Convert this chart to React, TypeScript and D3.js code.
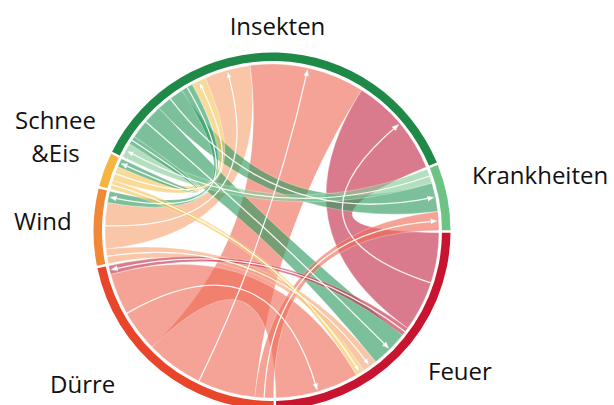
import React from "react";
import * as d3 from "d3";

const groupNames = ["Insekten", "Krankheiten", "Feuer", "Dürre", "Wind", "Schnee &Eis"];
const ringColors = ["#1f8a47", "#6cc383", "#c8142f", "#e8452a", "#f08838", "#f5b540"];
const linkColors = ["#2a9a5e", "#86cc98", "#c12a45", "#ef6b55", "#f6a373", "#f6c457"];

// directed flows: source -> target, value
const flowSource = ["Krankheiten", "Insekten", "Insekten", "Insekten", "Insekten", "Schnee &Eis", "Wind", "Dürre", "Feuer", "Dürre", "Feuer", "Wind", "Schnee &Eis", "Dürre"];
const flowTarget = ["Insekten", "Schnee &Eis", "Feuer", "Krankheiten", "Wind", "Insekten", "Insekten", "Insekten", "Insekten", "Krankheiten", "Dürre", "Feuer", "Feuer", "Feuer"];
const flowValue = [5, 3, 13, 10, 4, 5, 16, 40, 35, 6.5, 3, 5, 3, 29];

// clockwise order of the ribbon ends inside each group (flow indices)
const slotOrder = [
  [0, 1, 2, 3, 4, 5, 6, 7, 8], // Insekten
  [0, 3, 9], // Krankheiten
  [8, 10, 2, 11, 12, 13], // Feuer
  [9, 7, 13, 10], // Dürre
  [11, 6, 4], // Wind
  [12, 5, 1], // Schnee &Eis
];

const W = 614;
const H = 405;
const cx = 272;
const cy = 231;
const ringOuter = 178.5;
const ringInner = 170;
const ribbonR = 167;
const padDeg = 0.8;
const startDeg = -64;

type End = { startAngle: number; endAngle: number };

function layout() {
  const n = groupNames.length;
  const pad = (padDeg * Math.PI) / 180;
  const totals = slotOrder.map((s) => d3.sum(s, (i) => flowValue[i]));
  const angle = d3
    .scaleLinear()
    .domain([0, d3.sum(totals)])
    .range([0, 2 * Math.PI - n * pad]);

  const ends: { source: End | null; target: End | null }[] = flowValue.map(() => ({ source: null, target: null }));
  const groups: (End & { index: number })[] = [];
  let cursor = (startDeg * Math.PI) / 180 + pad / 2;

  slotOrder.forEach((slots, g) => {
    const g0 = cursor;
    slots.forEach((fi) => {
      const a0 = cursor;
      const a1 = cursor + angle(flowValue[fi]);
      cursor = a1;
      if (groupNames.indexOf(flowSource[fi]) === g) ends[fi].source = { startAngle: a0, endAngle: a1 };
      else ends[fi].target = { startAngle: a0, endAngle: a1 };
    });
    groups.push({ index: g, startAngle: g0, endAngle: cursor });
    cursor += pad;
  });
  return { ends, groups };
}

export default function App() {
  const { ends, groups } = layout();
  const arc = d3.arc<End>().innerRadius(ringInner).outerRadius(ringOuter);
  const ribbon = d3.ribbon<any, any>().radius(ribbonR);

  const order = d3.range(flowValue.length).sort((a, b) => flowValue[b] - flowValue[a]);

  const arrowPath = (fi: number) => {
    const s = ends[fi].source!;
    const t = ends[fi].target!;
    const sa = (s.startAngle + s.endAngle) / 2;
    const ta = (t.startAngle + t.endAngle) / 2;
    const r2 = ribbonR - 2;
    const p = d3.path();
    p.moveTo(ribbonR * Math.sin(sa), -ribbonR * Math.cos(sa));
    p.quadraticCurveTo(0, 0, r2 * Math.sin(ta), -r2 * Math.cos(ta));
    return p.toString();
  };

  return (
    <svg
      width={W}
      height={H}
      style={{ position: "absolute", left: 0, top: 0, background: "#fff" }}
      fontFamily="'Open Sans', sans-serif"
    >
      <defs>
        <marker
          id="arr"
          viewBox="0 0 10 10"
          refX="9"
          refY="5"
          markerWidth="7"
          markerHeight="7"
          markerUnits="userSpaceOnUse"
          orient="auto"
        >
          <path d="M0,1 L10,5 L0,9 z" fill="#fff" stroke="#c8c8c8" strokeWidth={0.8} />
        </marker>
      </defs>
      <g transform={`translate(${cx},${cy})`}>
        {order.map((fi) => (
          <path
            key={"r" + fi}
            d={ribbon({ source: ends[fi].source, target: ends[fi].target }) as unknown as string}
            fill={linkColors[groupNames.indexOf(flowSource[fi])]}
            fillOpacity={0.62}
            stroke="#fff"
            strokeOpacity={0.5}
            strokeWidth={0.6}
          />
        ))}
        {order.map((fi) => (
          <path
            key={"a" + fi}
            d={arrowPath(fi)}
            fill="none"
            stroke="#fff"
            strokeOpacity={0.9}
            strokeWidth={1.3}
            markerEnd="url(#arr)"
          />
        ))}
        {groups.map((g) => (
          <path key={"g" + g.index} d={arc(g) as string} fill={ringColors[g.index]} />
        ))}
      </g>
      <g fontSize={24} fill="#111">
        <text x={277.5} y={35} textAnchor="middle">Insekten</text>
        <text x={55.5} y={129} textAnchor="middle">Schnee</text>
        <text x={55.5} y={162} textAnchor="middle">&amp;Eis</text>
        <text x={14} y={230}>Wind</text>
        <text x={472} y={184}>Krankheiten</text>
        <text x={50} y={393}>Dürre</text>
        <text x={428} y={380}>Feuer</text>
      </g>
    </svg>
  );
}
